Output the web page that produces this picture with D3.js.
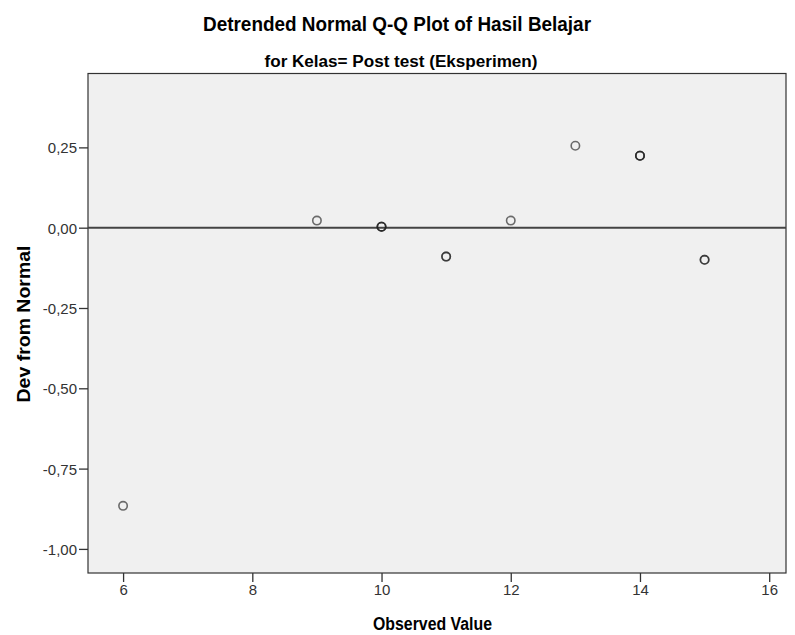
<!DOCTYPE html>
<html><head><meta charset="utf-8">
<script src="https://cdn.jsdelivr.net/npm/d3@7"></script>
<style>body{margin:0;background:#fff}svg{display:block}</style>
</head><body>
<svg id="c" width="795" height="635"></svg>
<script>
const observed = [6, 9, 10, 11, 12, 13, 14, 15];
const deviation = [-0.866, 0.022, 0.003, -0.090, 0.022, 0.255, 0.224, -0.100];
const counts = [1, 1, 3, 2, 1, 1, 3, 2];
const xTicks = [6, 8, 10, 12, 14, 16];
const yTicks = [0.25, 0, -0.25, -0.5, -0.75, -1];
const title = "Detrended Normal Q-Q Plot of Hasil Belajar";
const subtitle = "for Kelas= Post test (Eksperimen)";

const svg = d3.select("#c");
const L = 88, R = 786, T = 73.5, B = 573;
const x = d3.scaleLinear().domain([5.457, 16.26]).range([L, R]);
const y = d3.scaleLinear().domain([-1.075, 0.48]).range([B, T]);
const font = "'Liberation Sans Narrow', 'Liberation Sans', Arial, sans-serif";

svg.append("text").attr("x", 397).attr("y", 31).attr("text-anchor", "middle")
  .attr("font-family", font).attr("font-weight", "bold").attr("font-size", 21)
  .attr("textLength", 388).attr("lengthAdjust", "spacingAndGlyphs").attr("fill", "#000").text(title);
svg.append("text").attr("x", 401).attr("y", 66.5).attr("text-anchor", "middle")
  .attr("font-family", font).attr("font-weight", "bold").attr("font-size", 16)
  .attr("textLength", 273).attr("lengthAdjust", "spacingAndGlyphs").attr("fill", "#000").text(subtitle);

svg.append("rect").attr("x", L).attr("y", T).attr("width", R - L).attr("height", B - T)
  .attr("fill", "#f0f0f0").attr("stroke", "#333").attr("stroke-width", 1.2);

const fmtY = d => d3.format(".2f")(d).replace("\u2212", "-").replace(".", ",").replace("-0,00", "0,00");
const xa = svg.append("g").attr("transform", `translate(0,${B})`)
  .call(d3.axisBottom(x).tickValues(xTicks).tickSize(9).tickFormat(d3.format("d")));
const ya = svg.append("g").attr("transform", `translate(${L},0)`)
  .call(d3.axisLeft(y).tickValues(yTicks).tickSize(9).tickFormat(fmtY));
[xa, ya].forEach(a => {
  a.select(".domain").remove();
  a.selectAll("line").attr("stroke", "#333").attr("stroke-width", 1.3);
  a.selectAll("text").attr("font-family", font).attr("font-size", 15).attr("fill", "#333");
});
xa.selectAll("text").attr("y", 22).attr("dy", 0);
ya.selectAll("text").attr("dy", "0.36em").attr("x", -11);

svg.append("line").attr("x1", L).attr("x2", R).attr("y1", y(0)).attr("y2", y(0))
  .attr("stroke", "#444").attr("stroke-width", 2);

const pts = [];
observed.forEach((v, i) => { for (let k = 0; k < counts[i]; k++) pts.push({x: v, y: deviation[i]}); });
svg.append("g").selectAll("circle").data(pts).join("circle")
  .attr("cx", d => x(d.x)).attr("cy", d => y(d.y)).attr("r", 4.2)
  .attr("fill", "none").attr("stroke", "#222").attr("stroke-opacity", 0.65).attr("stroke-width", 1.6);

svg.append("text").attr("x", 432.5).attr("y", 630).attr("text-anchor", "middle")
  .attr("font-family", font).attr("font-weight", "bold").attr("font-size", 18)
  .attr("textLength", 119).attr("lengthAdjust", "spacingAndGlyphs").attr("fill", "#000").text("Observed Value");
svg.append("text").attr("transform", `translate(30,324) rotate(-90)`).attr("text-anchor", "middle")
  .attr("font-family", font).attr("font-weight", "bold").attr("font-size", 18)
  .attr("textLength", 157).attr("lengthAdjust", "spacingAndGlyphs").attr("fill", "#000").text("Dev from Normal");
</script>
</body></html>
